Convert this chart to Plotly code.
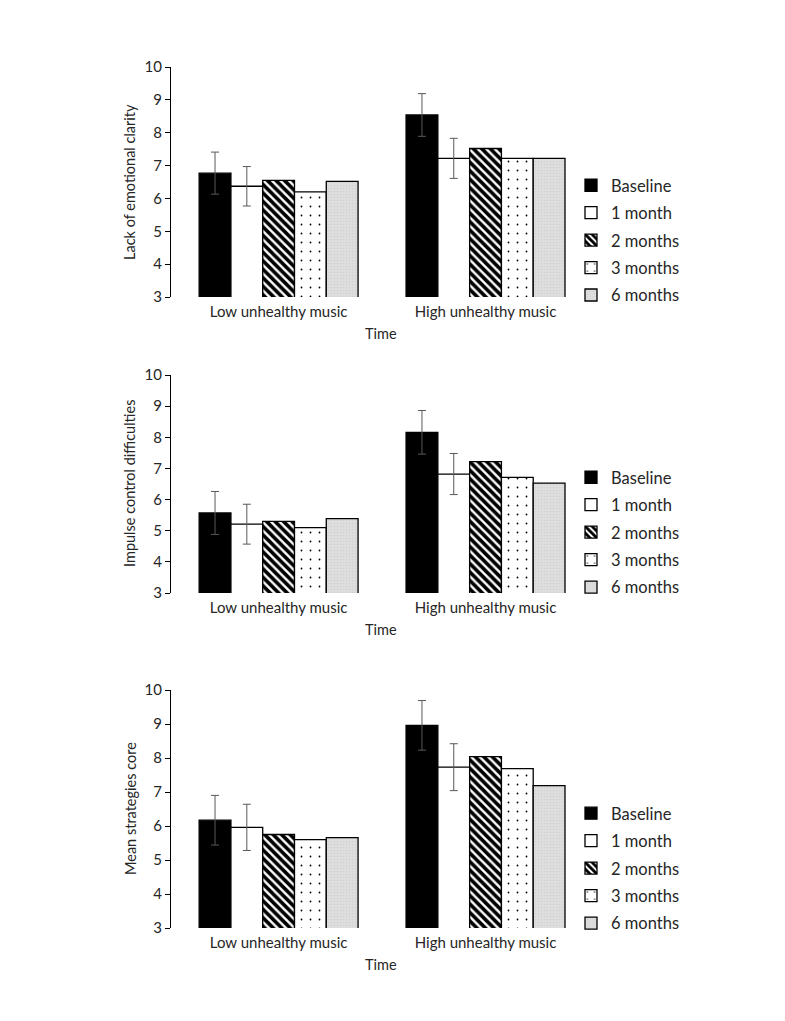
import plotly.graph_objects as go

categories = ["Low unhealthy music", "High unhealthy music"]
series_names = ["Baseline", "1 month", "2 months", "3 months", "6 months"]

# Panel 1: Lack of emotional clarity
clarity_baseline = [6.77, 8.54]
clarity_1m = [6.37, 7.22]
clarity_2m = [6.55, 7.52]
clarity_3m = [6.20, 7.22]
clarity_6m = [6.52, 7.22]
clarity_err_baseline = [0.64, 0.65]
clarity_err_1m = [0.60, 0.61]

# Panel 2: Impulse control difficulties
impulse_baseline = [5.57, 8.16]
impulse_1m = [5.21, 6.82]
impulse_2m = [5.30, 7.22]
impulse_3m = [5.10, 6.71]
impulse_6m = [5.39, 6.53]
impulse_err_baseline = [0.69, 0.70]
impulse_err_1m = [0.64, 0.66]

# Panel 3: Mean strategies core
strat_baseline = [6.17, 8.96]
strat_1m = [5.96, 7.73]
strat_2m = [5.75, 8.04]
strat_3m = [5.60, 7.69]
strat_6m = [5.66, 7.19]
strat_err_baseline = [0.73, 0.73]
strat_err_1m = [0.68, 0.69]

y_titles = ["Lack of emotional clarity", "Impulse control difficulties", "Mean strategies core"]

panels = [
    ([clarity_baseline, clarity_1m, clarity_2m, clarity_3m, clarity_6m], [clarity_err_baseline, clarity_err_1m]),
    ([impulse_baseline, impulse_1m, impulse_2m, impulse_3m, impulse_6m], [impulse_err_baseline, impulse_err_1m]),
    ([strat_baseline, strat_1m, strat_2m, strat_3m, strat_6m], [strat_err_baseline, strat_err_1m]),
]

W, H = 785, 1021
OFF = 8  # page body margin offset (screen = figure + OFF)
FONT = "Lato"
TXT = "#262626"
# screen pixel positions of each panel (y of value 10, y of value 3)
panel_px = [(67, 297), (375, 593), (690, 928)]
legend_top_px = [168, 460, 796]
legend_left_px = 571
x_px = (171, 589)


def fx(px):
    return (px - OFF) / W


def fy(py):
    return 1 - (py - OFF) / H


styles = [
    dict(color="black", pattern=None),
    dict(color="white", pattern=None),
    dict(color="white", pattern=dict(shape="\\", fgcolor="black", bgcolor="white", fgopacity=1, size=6, solidity=0.6)),
    dict(color="white", pattern=dict(shape=".", fgcolor="black", bgcolor="white", fgopacity=1, size=9, solidity=0.03)),
    dict(color="#d8d8d8", pattern=dict(shape=".", fgcolor="#c4c4c4", bgcolor="#dedede", size=3, solidity=0.25)),
]

fig = go.Figure()
layout = dict(
    width=W, height=H,
    paper_bgcolor="white", plot_bgcolor="white",
    margin=dict(l=0, r=0, t=0, b=0, pad=0, autoexpand=False),
    barmode="group", bargap=0.232, bargroupgap=0,
    font=dict(family=FONT, size=14.5, color=TXT),
    annotations=[],
)

for p, (vals, errs) in enumerate(panels):
    idx = "" if p == 0 else str(p + 1)
    xa = "x" + idx
    ya = "y" + idx
    leg = "legend" + idx
    for s, name in enumerate(series_names):
        marker = dict(color=styles[s]["color"], line=dict(color="black", width=1.3))
        if styles[s]["pattern"] is not None:
            marker["pattern"] = styles[s]["pattern"]
        err = None
        if s < 2:
            err = dict(type="data", array=errs[s], visible=True, color="#595959", thickness=1, width=4)
        fig.add_trace(go.Bar(
            x=categories, y=vals[s], name=name, marker=marker, error_y=err,
            xaxis=xa, yaxis=ya, legend=leg, legendgroup=f"{p}-{s}",
            showlegend=True,
        ))
    ytop, ybot = panel_px[p]
    layout["xaxis" + idx] = dict(
        domain=[fx(x_px[0]), fx(x_px[1])], anchor=ya, range=[-0.52, 1.5],
        showline=False, showgrid=False, zeroline=False, ticks="", automargin=False,
        ticklabelstandoff=4,
        tickfont=dict(family=FONT, size=15, color=TXT),
    )
    layout["yaxis" + idx] = dict(
        domain=[fy(ybot), fy(ytop)], anchor=xa, range=[3, 10], dtick=1,
        showline=True, linecolor="black", linewidth=1, showgrid=False, zeroline=False,
        ticks="outside", ticklen=5, tickcolor="black", automargin=False,
        tickfont=dict(family=FONT, size=15, color=TXT),
    )
    layout["annotations"].append(dict(
        text=y_titles[p], xref="paper", yref="paper", x=fx(130), y=fy((ytop + ybot) / 2),
        textangle=-90, showarrow=False, xanchor="center", yanchor="middle",
        font=dict(family=FONT, size=14.5, color=TXT),
    ))
    layout["annotations"].append(dict(
        text="Time", xref="paper", yref="paper", x=fx(381), y=fy(ybot + 36),
        showarrow=False, xanchor="center", yanchor="middle",
        font=dict(family=FONT, size=14.5, color=TXT),
    ))
    layout[leg] = dict(
        x=fx(legend_left_px), y=fy(legend_top_px[p]), xanchor="left", yanchor="top",
        bgcolor="rgba(0,0,0,0)", font=dict(family=FONT, size=16.5, color=TXT),
        tracegroupgap=3, itemwidth=30,
    )

fig.update_layout(**layout)
fig.write_html("out.html")
